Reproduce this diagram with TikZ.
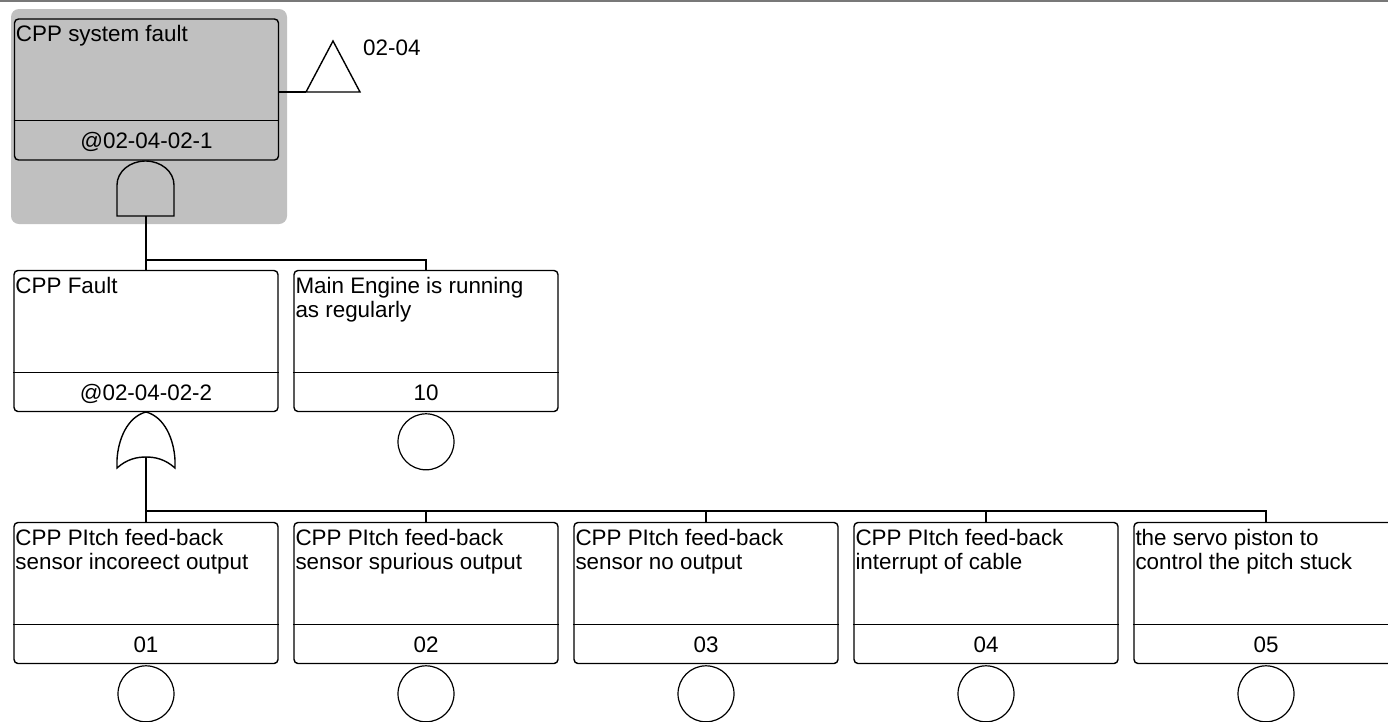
\documentclass[tikz,border=0pt]{standalone}
\usepackage{fontspec}
\setmainfont{Liberation Sans}
\definecolor{silverbg}{RGB}{192,192,192}
\definecolor{topline}{RGB}{120,120,120}
\tikzset{
  conn/.style={line width=1.4pt, black},
  evbox/.style={draw, line width=1.4pt, rounded corners=4pt, minimum width=264pt, minimum height=141pt, inner sep=0pt},
  evtext/.style={inner sep=0pt, align=left, font=\fontsize{22.4}{24}\selectfont},
  idtext/.style={inner sep=0pt, font=\fontsize{22.4}{24}\selectfont},
  evcircle/.style={draw, circle, line width=1.2pt, minimum size=56pt, inner sep=0pt},
  gate/.style={draw, line width=1.4pt}
}
\newcommand{\ftbox}[4]{%
  \node[evbox] (#1) at (#2) {};
  \draw[conn] ([yshift=40pt]#1.south west) -- ([yshift=40pt]#1.south east);
  \node[evtext, anchor=north west] (#1t) at ([xshift=2pt,yshift=-7pt]#1.north west) {#3};
  \node[idtext, anchor=base] (#1i) at ([yshift=12pt]#1.south) {#4};
}
\begin{document}
\begin{tikzpicture}[x=1pt, y=-1pt]
\useasboundingbox (0,0) rectangle (1388,721);
\clip (0,0) rectangle (1388,721);
\fill[white] (0,0) rectangle (1388,721);
\draw[topline, line width=2pt] (0,1) -- (1388,1);

% highlighted top event background
\node[fill=silverbg, rounded corners=8pt, minimum width=276pt, minimum height=215pt, inner sep=0pt] (hl) at (149,116.5) {};

% top event
\ftbox{top}{146.5,89.5}{CPP system fault}{@02-04-02-1}

% transfer triangle
\coordinate (trL) at (306,92);
\coordinate (trR) at (360,92);
\coordinate (trA) at (333,41);
\draw[line width=1.4pt, line join=miter] (trL) -- (trA) -- (trR) -- cycle;
\draw[conn] (top.east |- trL) -- (trL);
\node[idtext, anchor=base west] (trlab) at (363,55) {02-04};

% AND gate
\coordinate (g1t) at (146,161);
\coordinate (g1b) at (146,216);
\draw[gate] (117,216) -- (117,185) arc[start angle=180, end angle=0, x radius=28.5, y radius=-24] -- (174,216) -- cycle;

% second level
\ftbox{cppf}{146,341}{CPP Fault}{@02-04-02-2}
\ftbox{me}{426,341}{Main Engine is running\\as regularly}{10}
\node[evcircle, anchor=north] (mec) at ([yshift=-1pt]me.south) {};

\coordinate (bus1) at (146,260);
\draw[conn] (g1b) -- (cppf.north);
\draw[conn] (bus1) -| (me.north);

% OR gate
\coordinate (g2t) at (146,412);
\coordinate (g2b) at (146,457);
\draw[gate] (g2t) .. controls (127,417) and (118,440) .. (117,460) -- (117,468)
   .. controls (127,459) and (137,457) .. (g2b)
   .. controls (155,457) and (165,459) .. (175,468) -- (175,460)
   .. controls (174,440) and (165,417) .. (g2t) -- cycle;

% bottom level
\ftbox{e01}{146,593}{CPP PItch feed-back\\sensor incoreect output}{01}
\ftbox{e02}{426,593}{CPP PItch feed-back\\sensor spurious output}{02}
\ftbox{e03}{706,593}{CPP PItch feed-back\\sensor no output}{03}
\ftbox{e04}{986,593}{CPP PItch feed-back\\interrupt of cable}{04}
\ftbox{e05}{1266,593}{the servo piston to\\control the pitch stuck}{05}
\foreach \n in {e01,e02,e03,e04,e05}{
  \node[evcircle, anchor=north] (\n c) at ([yshift=-1pt]\n.south) {};
}

\coordinate (bus2) at (146,511);
\draw[conn] (g2b) -- (e01.north);
\draw[conn] (bus2) -| (e02.north);
\draw[conn] (bus2) -| (e03.north);
\draw[conn] (bus2) -| (e04.north);
\draw[conn] (bus2) -| (e05.north);
\end{tikzpicture}
\end{document}
